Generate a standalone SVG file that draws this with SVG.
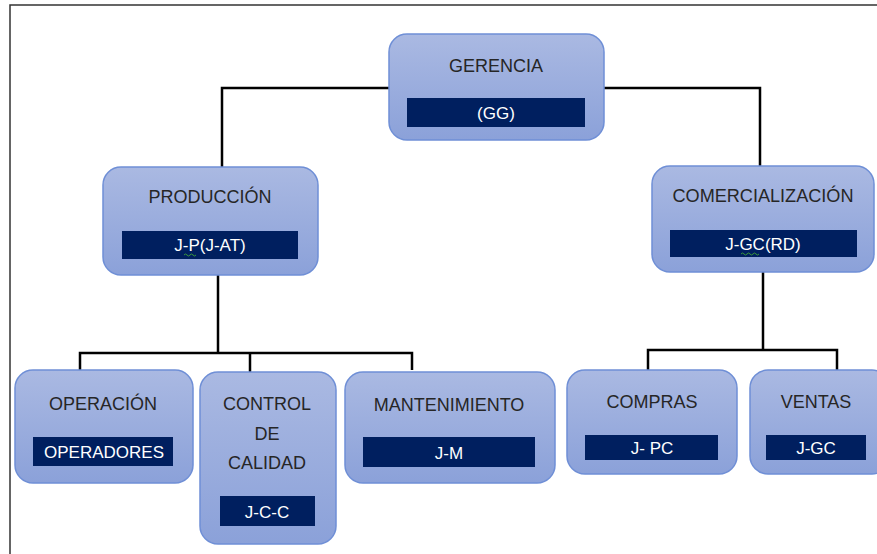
<svg xmlns="http://www.w3.org/2000/svg" width="877" height="554" viewBox="0 0 877 554">
<defs>
<linearGradient id="g" x1="0" y1="0" x2="0" y2="1">
<stop offset="0" stop-color="#aab9e2"/>
<stop offset="1" stop-color="#8ba1d9"/>
</linearGradient>
<style>
.box{fill:url(#g);stroke:#6f8fd6;stroke-width:1.5}
.band{fill:#001f5f}
.t{font-family:"Liberation Sans",Arial,sans-serif;font-size:18px;fill:#262626;text-anchor:middle}
.w{font-family:"Liberation Sans",Arial,sans-serif;font-size:17px;fill:#ffffff;text-anchor:middle}
.c{fill:none;stroke:#000;stroke-width:2.5}
.sq{fill:none;stroke:#3a9a3a;stroke-width:1}
</style>
</defs>
<rect width="877" height="554" fill="#fff"/>
<path d="M10,554 V5 H877" fill="none" stroke="#333" stroke-width="1.5"/>
<g id="connectors">
<path class="c" d="M389,88 H222 V167"/>
<path class="c" d="M604,88 H760 V166"/>
<path class="c" d="M218,275 V353"/>
<path class="c" d="M80,370 V353 H412 V370"/>
<path class="c" d="M250,353 V372"/>
<path class="c" d="M763,272 V350"/>
<path class="c" d="M648,370 V350 H837 V370"/>
</g>
<g id="gerencia">
<rect class="box" x="389" y="34" width="215" height="106" rx="18"/>
<rect class="band" x="407" y="98" width="178" height="29"/>
<text class="t" x="496" y="72">GERENCIA</text>
<text class="w" x="496" y="119">(GG)</text>
</g>
<g id="produccion">
<rect class="box" x="103" y="167" width="215" height="108" rx="18"/>
<rect class="band" x="122" y="231" width="176" height="28"/>
<text class="t" x="210" y="203">PRODUCCIÓN</text>
<text class="w" x="210" y="251">J-P(J-AT)</text>
<path class="sq" d="M184,255 q1.5,-2 3,0 t3,0 t3,0 t3,0"/>
</g>
<g id="comercializacion">
<rect class="box" x="652" y="166" width="222" height="106" rx="18"/>
<rect class="band" x="670" y="230" width="187" height="27"/>
<text class="t" x="763" y="202" textLength="181" lengthAdjust="spacingAndGlyphs">COMERCIALIZACIÓN</text>
<text class="w" x="763" y="250">J-GC(RD)</text>
<path class="sq" d="M741,254 q1.5,-2 3,0 t3,0 t3,0 t3,0 t3,0 t3,0"/>
</g>
<g id="operacion">
<rect class="box" x="15" y="370" width="178" height="113" rx="18"/>
<rect class="band" x="33" y="437" width="140" height="29"/>
<text class="t" x="103" y="410">OPERACIÓN</text>
<text class="w" x="104" y="458">OPERADORES</text>
</g>
<g id="control">
<rect class="box" x="200" y="372" width="136" height="172" rx="18"/>
<rect class="band" x="220" y="496" width="95" height="30"/>
<text class="t" x="267" y="410">CONTROL</text>
<text class="t" x="267" y="440">DE</text>
<text class="t" x="267" y="469">CALIDAD</text>
<text class="w" x="267" y="518">J-C-C</text>
</g>
<g id="mantenimiento">
<rect class="box" x="345" y="372" width="210" height="111" rx="18"/>
<rect class="band" x="363" y="437" width="172" height="30"/>
<text class="t" x="449" y="411">MANTENIMIENTO</text>
<text class="w" x="449" y="459">J-M</text>
</g>
<g id="compras">
<rect class="box" x="567" y="370" width="170" height="104" rx="18"/>
<rect class="band" x="585" y="435" width="133" height="25"/>
<text class="t" x="652" y="408">COMPRAS</text>
<text class="w" x="652" y="454">J- PC</text>
</g>
<g id="ventas">
<rect class="box" x="750" y="370" width="140" height="104" rx="18"/>
<rect class="band" x="766" y="435" width="100" height="25"/>
<text class="t" x="816" y="408">VENTAS</text>
<text class="w" x="816" y="454">J-GC</text>
</g>
</svg>
